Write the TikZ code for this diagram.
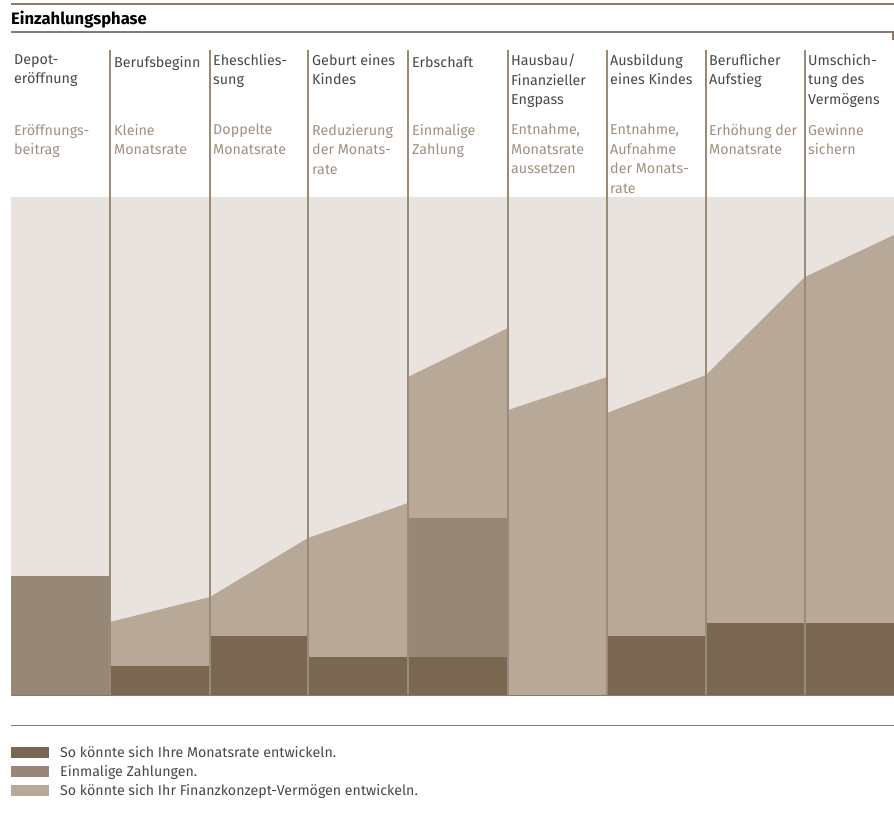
\documentclass[tikz,border=0pt]{standalone}
\usepackage{fontspec}
\setmainfont{Fira Sans}

\definecolor{rulecol}{HTML}{8A7A6A}
\definecolor{sepcol}{HTML}{9A8A7A}
\definecolor{bgcol}{HTML}{E8E3DF}
\definecolor{tancol}{HTML}{B7A898}
\definecolor{midcol}{HTML}{978777}
\definecolor{darkcol}{HTML}{7A6752}
\definecolor{labcol}{HTML}{474747}
\definecolor{subcol}{HTML}{9E8F80}

\tikzset{
  event/.style={anchor=north west, align=left, inner sep=0pt, text=labcol,
    font=\fontsize{14.3}{19.5}\selectfont, execute at begin node=\strut},
  action/.style={event, text=subcol},
  legendtext/.style={anchor=base west, inner sep=0pt, text=labcol,
    font=\fontsize{14.2}{19}\selectfont},
}

\begin{document}
\begin{tikzpicture}[x=1pt,y=-1pt]
  \useasboundingbox (0,0) rectangle (894,837);

  % header
  \draw[rulecol, line width=2pt] (11,4) -- (894,4);
  \node[anchor=base west, inner sep=0pt, font=\fontsize{16.6}{18}\selectfont\bfseries] (title) at (11,25) {Einzahlungsphase};
  \draw[rulecol, line width=1.2pt] (11,32) -- (893,32) -- (893,40);

  % chart areas
  \fill[bgcol] (11,197) rectangle (894,695);
  \fill[tancol] (110,695) -- (110,622) -- (210,597) -- (308,538) -- (408,503)
    -- (408,377) -- (508,328) -- (508,410) -- (607,377) -- (607,413)
    -- (706,375) -- (805,277) -- (894,235) -- (894,695) -- cycle;
  \fill[midcol] (11,576) rectangle (110,695);
  \fill[midcol] (408,518) rectangle (508,657);
  \fill[darkcol] (110,666) rectangle (210,695);
  \fill[darkcol] (210,636) rectangle (308,695);
  \fill[darkcol] (308,657) rectangle (508,695);
  \fill[darkcol] (607,636) rectangle (706,695);
  \fill[darkcol] (706,623) rectangle (894,695);
  \draw[rulecol, line width=0.8pt] (11,695) -- (894,695);

  % column separators
  \begin{scope}[sepcol, line width=1.3pt]
    \draw (110,50) -- (110,695);
    \draw (210,50) -- (210,695);
    \draw (308,50) -- (308,695);
    \draw (408,50) -- (408,695);
    \draw (508,50) -- (508,695);
    \draw (607,50) -- (607,695);
    \draw (706,50) -- (706,695);
    \draw (805,50) -- (805,695);
  \end{scope}

  % events
  \node[event] (depot)   at (14,54)  {Depot-\\eröffnung};
  \node[event] (beruf)   at (114,54) {Berufsbeginn};
  \node[event] (ehe)     at (213,54) {Eheschlies-\\sung};
  \node[event] (geburt)  at (312,54) {Geburt eines\\Kindes};
  \node[event] (erbe)    at (412,54) {Erbschaft};
  \node[event] (haus)    at (511,54) {Hausbau/\\Finanzieller\\Engpass};
  \node[event] (bildung) at (610,54) {Ausbildung\\eines Kindes};
  \node[event] (aufstieg) at (709,54) {Beruflicher\\Aufstieg};
  \node[event] (umschicht) at (808,54) {Umschich-\\tung des\\Vermögens};

  % actions
  \node[action] (eroeff)  at (14,124)  {Eröffnungs-\\beitrag};
  \node[action] (klein)   at (114,124) {Kleine\\Monatsrate};
  \node[action] (doppelt) at (213,124) {Doppelte\\Monatsrate};
  \node[action] (reduz)   at (312,124) {Reduzierung\\der Monats-\\rate};
  \node[action] (einmal)  at (412,124) {Einmalige\\Zahlung};
  \node[action] (entnahme) at (511,124) {Entnahme,\\Monatsrate\\aussetzen};
  \node[action] (aufnahme) at (610,124) {Entnahme,\\Aufnahme\\der Monats-\\rate};
  \node[action] (erhoeh)  at (709,124) {Erhöhung der\\Monatsrate};
  \node[action] (gewinne) at (808,124) {Gewinne\\sichern};

  % legend
  \draw[rulecol, line width=1pt] (11,725) -- (894,725);
  \fill[darkcol] (11,747) rectangle (49,758);
  \fill[midcol]  (11,766) rectangle (49,777);
  \fill[tancol]  (11,785) rectangle (49,796);
  \node[legendtext] (leg1) at (60,757) {So könnte sich Ihre Monatsrate entwickeln.};
  \node[legendtext] (leg2) at (60,776) {Einmalige Zahlungen.};
  \node[legendtext] (leg3) at (60,795) {So könnte sich Ihr Finanzkonzept-Vermögen entwickeln.};
\end{tikzpicture}
\end{document}
